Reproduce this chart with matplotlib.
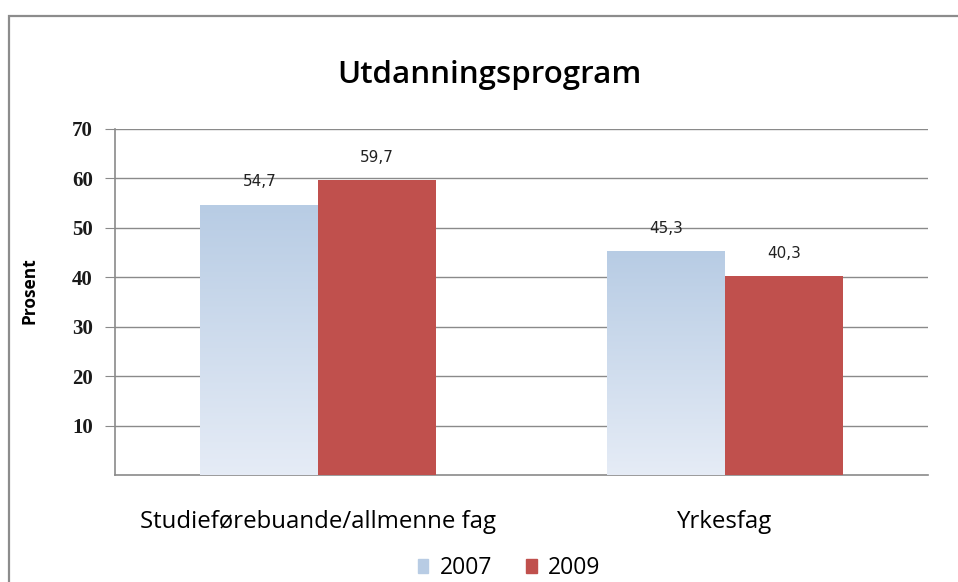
import numpy as np
import matplotlib
matplotlib.use('Agg')
import matplotlib.pyplot as plt
from matplotlib.patches import Rectangle, Patch

categories = ['Studieførebuande/allmenne fag', 'Yrkesfag']
years = ['2007', '2009']
values_2007 = [54.7, 45.3]
values_2009 = [59.7, 40.3]
yticks = [10, 20, 30, 40, 50, 60, 70]

blue_top = np.array([0.72, 0.80, 0.895])
blue_bot = np.array([0.90, 0.925, 0.965])
red = '#c0504d'
grid_col = '#8a8a8a'

fig = plt.figure(figsize=(9.58, 5.82), dpi=100)
W, H = 958, 582
ax = fig.add_axes([115 / W, (H - 475) / H, (928 - 115) / W, (475 - 129) / H])

# outer chart frame
fig.patches.append(Rectangle((9 / W, -0.1), 1.2, 1 - 16 / H + 0.1, transform=fig.transFigure,
                             fill=False, edgecolor='#8c8c8c', linewidth=1.6))

x = np.arange(len(categories))
w = 0.29
b07 = ax.bar(x - w / 2, values_2007, w, color='none', edgecolor='none', zorder=3)
b09 = ax.bar(x + w / 2, values_2009, w, color=red, edgecolor='none', zorder=3)

# gradient fill for the 2007 bars
grad = np.linspace(0, 1, 256)[:, None]
img = blue_top[None, None, :] * (1 - grad[:, :, None]) + blue_bot[None, None, :] * grad[:, :, None]
for bar in b07:
    x0, y0 = bar.get_x(), bar.get_y()
    im = ax.imshow(img, extent=[x0, x0 + bar.get_width(), y0, y0 + bar.get_height()],
                   aspect='auto', origin='upper', zorder=3)
    im.set_clip_path(bar)

for bars, vals in [(b07, values_2007), (b09, values_2009)]:
    for bar, v in zip(bars, vals):
        ax.annotate(f'{v:.1f}'.replace('.', ','), (bar.get_x() + bar.get_width() / 2, v),
                    xytext=(0, 11), textcoords='offset points', ha='center', va='bottom',
                    fontsize=11, family='DejaVu Sans', color='#222222', zorder=4)

ax.set_xlim(-0.5, 1.5)
ax.set_ylim(0, 70)
ax.set_yticks(yticks)
ax.set_yticklabels([str(t) for t in yticks], family='Liberation Serif', fontsize=15,
                   fontweight='bold', color='#1a1a1a')
ax.set_xticks(x)
ax.set_xticklabels(categories, family='Open Sans', fontsize=17.3)
ax.tick_params(axis='x', length=0, pad=25)
ax.tick_params(axis='y', length=7, color=grid_col, pad=9)
ax.yaxis.grid(True, color=grid_col, linewidth=1)
ax.set_axisbelow(True)
for s in ['top', 'right']:
    ax.spines[s].set_visible(False)
for s in ['left', 'bottom']:
    ax.spines[s].set_color(grid_col)
    ax.spines[s].set_linewidth(1.2)

ax.set_ylabel('Prosent', family='Open Sans', fontweight='bold', fontsize=12.5)
ax.yaxis.set_label_coords((39 - 115) / 813, (475 - 291) / 346)

fig.text(489 / W, 1 - 75 / H, 'Utdanningsprogram', ha='center', va='center', family='Open Sans',
         fontsize=22.5, fontweight='semibold')

handles = [Patch(color=blue_top, label=years[0]), Patch(color=red, label=years[1])]
fig.legend(handles=handles, loc='center', bbox_to_anchor=(509 / W, 1 - 568 / H), ncol=2, frameon=False,
           prop={'family': 'Open Sans', 'size': 16.5}, handlelength=0.45, handleheight=0.6,
           handletextpad=0.5, columnspacing=1.5)

fig.savefig('out.png', dpi=100)
